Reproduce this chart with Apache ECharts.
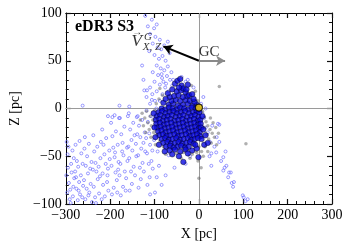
<!DOCTYPE html>
<html><head><meta charset="utf-8">
<script src="https://cdn.jsdelivr.net/npm/echarts@6/dist/echarts.min.js"></script>
<style>html,body{margin:0;padding:0;background:#fff}#c{width:350px;height:250px}</style>
</head><body><div id="c"></div>
<script>
// ---- data (pc) ----
const xRange = [-300, 300];
const yRange = [-100, 100];
const titleText = 'eDR3 S3';
const xName = 'X [pc]';
const yName = 'Z [pc]';

// open blue circles (field / extended sample)
const openStars = [
[-298,-35],[-296,-48],[-295,-62],[-299,-70],[-293,-78],[-297,-88],[-291,-95],[-288,-58],[-285,-44],[-287,-67],[-283,-82],[-281,-73],[-290,-85],[-284,-92],[-282,-52],[-294,-40],[-289,-99],
[-278,-38],[-275,-55],[-272,-61],[-279,-66],[-270,-77],[-276,-84],[-268,-90],[-273,-96],[-265,-47],[-262,-58],[-266,-70],[-261,-81],[-269,-34],[-263,-93],[-277,-72],[-271,-86],
[-258,-42],[-255,-60],[-252,-50],[-259,-75],[-250,-68],[-247,-88],[-244,-79],[-256,-95],[-242,-56],[-248,-37],[-245,-63],[-253,-84],[-241,-98],[-257,-30],[-249,-91],
[-238,-28],[-236,-45],[-233,-57],[-231,-66],[-228,-74],[-237,-82],[-225,-89],[-222,-52],[-229,-40],[-234,-93],[-223,-71],[-226,-61],[-239,-64],[-221,-35],[-232,-99],
[-218,-22],[-215,-38],[-213,-48],[-210,-58],[-217,-68],[-207,-77],[-204,-86],[-212,-92],[-202,-44],[-209,-31],[-205,-63],[-216,-80],[-201,-53],[-219,-95],[-206,-70],
[-198,-15],[-195,-29],[-193,-41],[-190,-51],[-197,-60],[-188,-67],[-185,-75],[-192,-83],[-183,-38],[-187,-24],[-181,-56],[-196,-90],[-184,-88],[-189,-46],[-182,-64],
[-178,-10],[-175,-27],[-172,-36],[-170,-49],[-177,-58],[-167,-66],[-164,-73],[-171,-82],[-162,-41],[-168,-19],[-161,-55],[-176,-91],[-165,-86],[-173,-45],[-179,-70],
[-158,-5],[-155,-22],[-152,-33],[-150,-44],[-157,-52],[-147,-61],[-144,-70],[-151,-79],[-142,-37],[-148,-15],[-141,-50],[-156,-86],[-145,-28],[-153,-66],[-159,-40],
[-138,-8],[-135,-18],[-132,-30],[-130,-42],[-137,-49],[-127,-57],[-124,-66],[-131,-74],[-122,-25],[-128,-12],[-121,-45],[-136,-83],[-125,-36],[-133,-62],[-139,-27],
[-118,-2],[-115,-14],[-112,-26],[-110,-38],[-117,-47],[-107,-55],[-104,-63],[-111,-72],[-102,-20],[-108,-8],[-101,-33],[-116,-80],[-105,-44],[-113,-58],[-119,-31],
[-262,3],[-205,-8],[-195,-9],[-180,-10],[-160,-8],[-140,-9],[-123,19],[-157,2],[-179,3],[-190,-7],
[-95,-72],[-68,-49],[-99,-88],[-90,-60],[-75,-70],[-20,-50],[-84,-80],[-55,-62],[-30,-58],[-110,-90],[-93,-45],[-100,-10],[-96,0],[-99,8],[-110,5],[-105,15],
[-121,97],[-106,93],[-115,86],[-101,84],[-95,88],[-110,78],[-98,75],[-88,72],[-104,68],[-93,64],[-85,62],[-78,66],[-112,60],[-100,56],[-90,52],[-82,55],[-75,50],
[-95,45],[-86,42],[-78,40],[-70,44],[-104,38],[-92,35],[-83,32],[-72,34],[-65,30],[-100,28],[-88,25],[-76,22],[-68,18],[-95,18],[-82,15],[-110,22],[-60,24],
[-118,12],[-106,9],[-88,8],[-125,30],[-128,45],[-66,58],[-70,70],[-62,38],[-117,19],[-80,28],[-58,30],[-74,26],[-84,36],
[46,-17],[28,-47],[55,-65],[72,-67],[79,-77],[101,-93],[110,-95],[77,-82],[40,-30],[35,-40],[50,-55],[62,-60],[66,-72],[20,-25],[25,-35],
[15,-20],[30,-18],[60,-45],[105,-97],[24,-50],[39,-46],[46,-35],[55,-51],[58,-62],[68,-67],[74,-78],[99,-91],[28,-60],[-21,-47],[43,-16],
[5,5],[8,-5],[12,-10],[15,0],[10,12],[-39,33],[-25,30],[-12,22],[-30,28]
];

// filled blue circles (members)
const members = [
[-68,4],[-58,5],[-47,3],[-36,4],[-25,5],[-14,3],[-5,4],[-3,1],
[-84,0],[-76,-1],[-67,1],[-59,0],[-50,-1],[-42,1],[-33,0],[-24,-1],[-16,1],[-7,0],[-1,-1],
[-91,-4],[-83,-3],[-75,-5],[-66,-4],[-57,-3],[-49,-5],[-40,-4],[-31,-3],[-22,-5],[-13,-4],[-5,-3],[1,-4],
[-95,-8],[-87,-7],[-78,-9],[-70,-8],[-61,-7],[-52,-9],[-43,-8],[-35,-7],[-26,-9],[-17,-8],[-9,-7],[-1,-9],
[-97,-12],[-89,-11],[-81,-13],[-72,-12],[-64,-11],[-55,-13],[-46,-12],[-37,-11],[-29,-13],[-20,-12],[-11,-11],[-3,-13],[3,-12],
[-96,-16],[-88,-15],[-79,-17],[-71,-16],[-62,-15],[-53,-17],[-44,-16],[-36,-15],[-27,-17],[-18,-16],[-10,-15],[-2,-17],[4,-16],
[-94,-20],[-86,-19],[-77,-21],[-68,-20],[-60,-19],[-51,-21],[-42,-20],[-34,-19],[-25,-21],[-16,-20],[-8,-19],[0,-21],[5,-20],
[-92,-24],[-84,-23],[-75,-25],[-66,-24],[-58,-23],[-49,-25],[-40,-24],[-31,-23],[-23,-25],[-14,-24],[-6,-23],[2,-25],
[-89,-28],[-81,-27],[-73,-29],[-64,-28],[-55,-27],[-47,-29],[-38,-28],[-29,-27],[-20,-29],[-12,-28],[-4,-27],[3,-29],
[-84,-32],[-76,-31],[-68,-33],[-59,-32],[-51,-31],[-42,-33],[-34,-32],[-25,-31],[-17,-33],[-9,-32],[-2,-31],
[-80,-36],[-71,-35],[-63,-37],[-54,-36],[-46,-35],[-37,-37],[-28,-36],[-20,-35],[-12,-37],
[-74,-40],[-65,-39],[-57,-41],[-48,-40],[-40,-39],[-31,-41],[-23,-40],
[-66,-44],[-54,-43],[-42,-45],[-30,-43],
[-62,8],[-52,9],[-42,8],[-30,9],[-20,8],[-10,7],[-56,13],[-46,14],[-36,12],[-26,13],[-66,12],[-50,18],[-40,19],[-30,17],[-22,14],
[-54,26],[-39,24],[-35,21],[-45,22],[-28,20],[-60,20],[-48,29],[-42,31],[-25,25],[-15,15],[-12,10],[-80,6],[-75,10],[-70,16],
[-1,-51],[-35,-56],[12,-38],[20,-36],[15,-28],[10,-22],[8,-8],[-100,-20],[-102,-5],[-98,-30],[-90,-38],[-77,-45],[-60,-48],[-45,-50],
[-25,-47],[-15,-44],[-5,-42],[-8,-38],[6,-32]
];

// grey points
const greyStars = [
[-128,-5],[-122,-10],[-118,-3],[-115,-15],[-110,-8],[-107,-18],[-104,-12],[-100,-2],[-112,-22],[-96,5],[-90,10],[-88,21],[-82,14],
[-72,-2],[-65,-3],[-55,-5],[-48,-4],[-40,-2],[-60,-1],[-17,24],[-8,18],[-3,8],[4,2],[8,-3],[12,-9],[16,-14],[20,-18],[25,-22],
[30,-26],[18,-27],[22,-32],[28,-36],[35,-30],[40,-38],[12,-20],[8,-30],[14,-40],[6,-45],[0,-40],[-5,-46],[-15,-48],[-25,-44],
[-35,-46],[-50,-47],[-60,-42],[-70,-40],[-80,-40],[-88,-34],[-95,-28],[-102,-25],[-108,-30],[-98,-38],[10,-50],[20,-45],[-2,-55],
[5,-62],[46,23],[106,-37],[0,-73],[-75,-48],[-40,-52],[-20,-52],[2,-15],[-4,-25],[-10,-30],[-30,-40],[-50,-38],[-66,-30],[-84,-20],
[-92,-14],[-78,-8],[26,-10],[32,-15],[38,-20],[44,-26],[-120,-25],[-125,-18],[-132,-12]
];

const sunPos = [[0, 1]];
const refLines = { x: 0, y: 0 };
const velocityArrow = [[0, 50], [-80, 65]];
const gcArrow = [[0, 50], [59, 50]];

// text annotations [x, y] in data units
const gcLabelPos = [23, 59];
const vLabelPos = [-140, 70];
const vArrowPos = [-139, 80];
const vSupPos = [-115, 75];
const vSubPos = [-106, 64];

const FONT = 'Liberation Serif';
const fmt = v => (v < 0 ? '\u2212' + Math.abs(v) : String(v));

function textPoint(pos, text, style) {
  return { value: pos, label: Object.assign({ show: true, position: 'inside', formatter: text,
    fontFamily: FONT, color: '#000' }, style) };
}

function makeAxis(range, interval, position, extra) {
  const ax = {
    type: 'value', min: range[0], max: range[1], interval: interval, position: position,
    axisLine: { show: true, onZero: false, lineStyle: { color: '#000', width: 1 } },
    axisTick: { show: true, inside: true, length: 5, lineStyle: { color: '#111', width: 1.2 } },
    minorTick: { show: true, splitNumber: 5, length: 3, lineStyle: { color: '#111', width: 1 } },
    splitLine: { show: false },
    axisLabel: { show: false }
  };
  return Object.assign(ax, extra || {});
}

const labelStyle = () => ({ formatter: fmt, fontFamily: FONT, fontSize: 14, color: '#000', margin: 4 });

const chart = echarts.init(document.getElementById('c'), null, { renderer: 'canvas' });
chart.setOption({
  animation: false,
  grid: { left: 62, right: 18, top: 13, bottom: 46 },
  title: { text: titleText, left: 70, top: 14,
    textStyle: { fontFamily: FONT, fontWeight: 'bold', fontSize: 16, color: '#000' } },
  xAxis: [
    makeAxis(xRange, 100, 'bottom', { name: xName, nameLocation: 'middle', nameGap: 22,
      nameTextStyle: { fontFamily: FONT, fontSize: 14, color: '#000' }, axisLabel: labelStyle() }),
    makeAxis(xRange, 100, 'top')
  ],
  yAxis: [
    makeAxis(yRange, 50, 'left', { name: yName, nameLocation: 'middle', nameGap: 42,
      nameTextStyle: { fontFamily: FONT, fontSize: 14, color: '#000' }, axisLabel: labelStyle() }),
    makeAxis(yRange, 50, 'right')
  ],
  series: [
    { type: 'scatter', name: 'ref', data: [], silent: true,
      markLine: { silent: true, z: 1, symbol: ['none', 'none'], label: { show: false },
        lineStyle: { color: '#9a9a9a', width: 1, type: 'solid' },
        data: [{ xAxis: refLines.x }, { yAxis: refLines.y }] } },
    { type: 'scatter', name: 'open', data: openStars, symbolSize: 3,
      itemStyle: { color: 'rgba(255,255,255,0)', borderColor: '#6a6aff', borderWidth: 0.8, opacity: 0.85 } },
    { type: 'scatter', name: 'grey', data: greyStars, symbolSize: 3.5,
      itemStyle: { color: 'rgba(90,90,90,0.6)' } },
    { type: 'scatter', name: 'members', data: members, symbolSize: 5.5,
      itemStyle: { color: '#0a0ae0', borderColor: '#000', borderWidth: 0.5 } },
    { type: 'scatter', name: 'arrows', data: [], silent: true,
      markLine: { silent: true, symbol: ['none', 'arrow'], symbolSize: [8, 9], label: { show: false },
        lineStyle: { type: 'solid', width: 2 },
        data: [
          [{ coord: velocityArrow[0], lineStyle: { color: '#000', width: 2, type: 'solid' }, itemStyle: { color: '#000' } },
           { coord: velocityArrow[1] }],
          [{ coord: gcArrow[0], lineStyle: { color: '#8a8a8a', width: 2, type: 'solid' }, itemStyle: { color: '#8a8a8a' } },
           { coord: gcArrow[1] }]
        ] } },
    { type: 'scatter', name: 'text', silent: true, symbolSize: 1,
      itemStyle: { color: 'rgba(0,0,0,0)' },
      data: [
        textPoint(gcLabelPos, 'GC', { fontSize: 15 }),
        textPoint(vLabelPos, 'V', { fontSize: 17, fontStyle: 'italic' }),
        textPoint(vArrowPos, '\u2192', { fontSize: 10 }),
        textPoint(vSupPos, 'G', { fontSize: 11, fontStyle: 'italic' }),
        textPoint(vSubPos, 'X, Z', { fontSize: 11, fontStyle: 'italic' })
      ] },
    { type: 'scatter', name: 'sun', data: sunPos, symbolSize: 7,
      itemStyle: { color: '#ffd700', borderColor: '#000', borderWidth: 1.2 } }
  ]
});
</script></body></html>
